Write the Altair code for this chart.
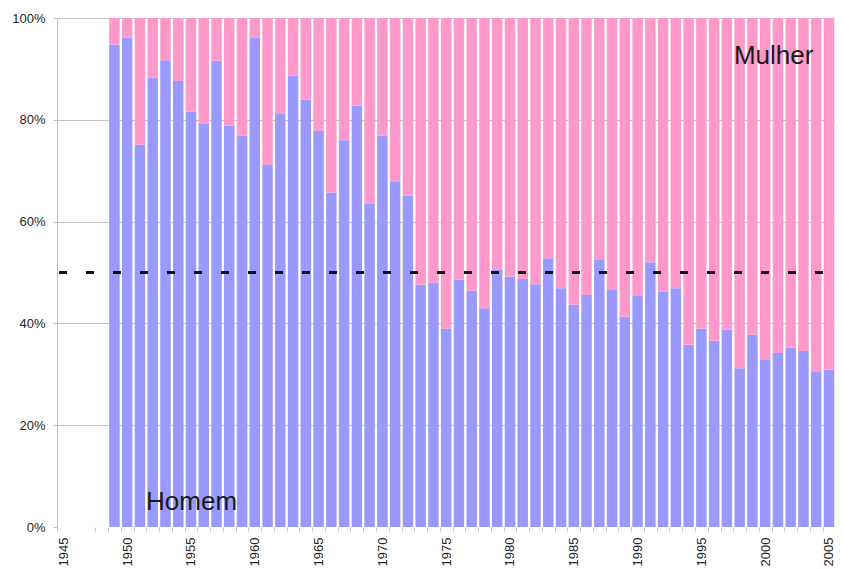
import altair as alt
import pandas as pd

# ---- data ----
years = list(range(1949, 2007))
homem = [94.8, 96.1, 75.1, 88.3, 91.7, 87.6, 81.6, 79.3, 91.6, 78.9,
         76.9, 96.1, 71.1, 81.3, 88.7, 84.0, 77.8, 65.7, 76.0, 82.8,
         63.6, 76.9, 67.8, 65.1, 47.6, 48.0, 39.0, 48.6, 46.4, 43.0,
         50.5, 49.2, 48.7, 47.7, 52.8, 46.9, 43.7, 45.6, 52.6, 46.7,
         41.3, 45.4, 52.0, 46.2, 46.9, 35.8, 39.0, 36.6, 38.8, 31.2,
         37.8, 32.8, 34.2, 35.2, 34.6, 30.6, 30.9, 33.5]
series = ["Homem", "Mulher"]
colors = ["#9999FF", "#FF99CC"]

x_tick_years = [1945] + list(range(1948, 2006))
y_ticks = [0, 0.2, 0.4, 0.6, 0.8, 1.0]

ref_line = [0.5]

label_text = ["Homem", "Mulher"]
label_x = [1951.48, 1997.55]
label_y = [0.033, 0.91]

PX_PER_YEAR = 12.76
W, H = 778, 509
x_domain = [1944.5, 1944.5 + W / PX_PER_YEAR]
half_band = PX_PER_YEAR / 2

FONT = "Liberation Sans"
GRID = "#C4C4C4"

df = pd.DataFrame({"ano": years, "Homem": homem})
xscale = alt.Scale(domain=x_domain, nice=False, zero=False, padding=0)
yscale = alt.Scale(domain=[0, 1], nice=False, padding=0)

xaxis = alt.Axis(
    values=x_tick_years,
    format="d",
    labelExpr="datum.value % 5 === 0 ? datum.label : ''",
    labelOverlap=False,
    labelBound=False,
    labelFlush=False,
    labelAngle=270,
    labelAlign="right",
    labelBaseline="middle",
    tickOffset=-half_band,
    labelOffset=half_band,
    tickSize=4,
    tickColor=GRID,
    labelPadding=6,
    domain=False,
    grid=False,
    labelFont=FONT,
    labelFontSize=13,
    labelColor="#262626",
)
yaxis = alt.Axis(
    values=y_ticks,
    format="%",
    tickSize=4,
    tickColor=GRID,
    domainColor=GRID,
    gridColor=GRID,
    gridOpacity={"condition": {"test": "datum.value === 0", "value": 0}, "value": 1},
    labelPadding=8,
    labelOverlap=False,
    labelFont=FONT,
    labelFontSize=13,
    labelColor="#262626",
)

bars = (
    alt.Chart(df)
    .transform_calculate(Mulher="100 - datum.Homem")
    .transform_fold(series, as_=["sexo", "pct"])
    .transform_calculate(ordem="datum.sexo === 'Homem' ? 0 : 1")
    .transform_stack(
        stack="pct",
        groupby=["ano"],
        as_=["y0", "y1"],
        offset="normalize",
        sort=[alt.SortField("ordem", order="ascending")],
    )
    .transform_calculate(x0="datum.ano - 0.41")
    .transform_calculate(x1="datum.ano + 0.41")
    .mark_bar(clip=True)
    .encode(
        x=alt.X("x0:Q", scale=xscale, title=None, axis=xaxis),
        x2="x1:Q",
        y=alt.Y("y0:Q", scale=yscale, title=None, axis=yaxis),
        y2="y1:Q",
        color=alt.Color("sexo:N", scale=alt.Scale(domain=series, range=colors), legend=None),
    )
)

rule = (
    alt.Chart(pd.DataFrame({"ref": ref_line}))
    .mark_rule(strokeDash=[8, 19], strokeWidth=3, color="#111111", clip=True)
    .encode(y=alt.Y("ref:Q", scale=yscale, title=None, axis=yaxis), x=alt.value(2), x2=alt.value(W + 10))
)

texts = (
    alt.Chart(pd.DataFrame({"t": label_text, "tx": label_x, "ty": label_y}))
    .mark_text(align="left", baseline="alphabetic", fontSize=26, font=FONT, color="#1a1a1a")
    .encode(
        x=alt.X("tx:Q", scale=xscale, title=None, axis=xaxis),
        y=alt.Y("ty:Q", scale=yscale, title=None, axis=yaxis),
        text="t:N",
    )
)

chart = (
    alt.layer(bars, rule, texts)
    .properties(
        width=W,
        height=H,
        autosize=alt.AutoSizeParams(type="none"),
        padding={"left": 49, "top": 10, "right": 0, "bottom": 40},
    )
    .configure_view(stroke=None)
    .configure_axis(labelOverlap=False)
)

chart.save("out.html", embed_options={"renderer": "svg", "actions": False})
